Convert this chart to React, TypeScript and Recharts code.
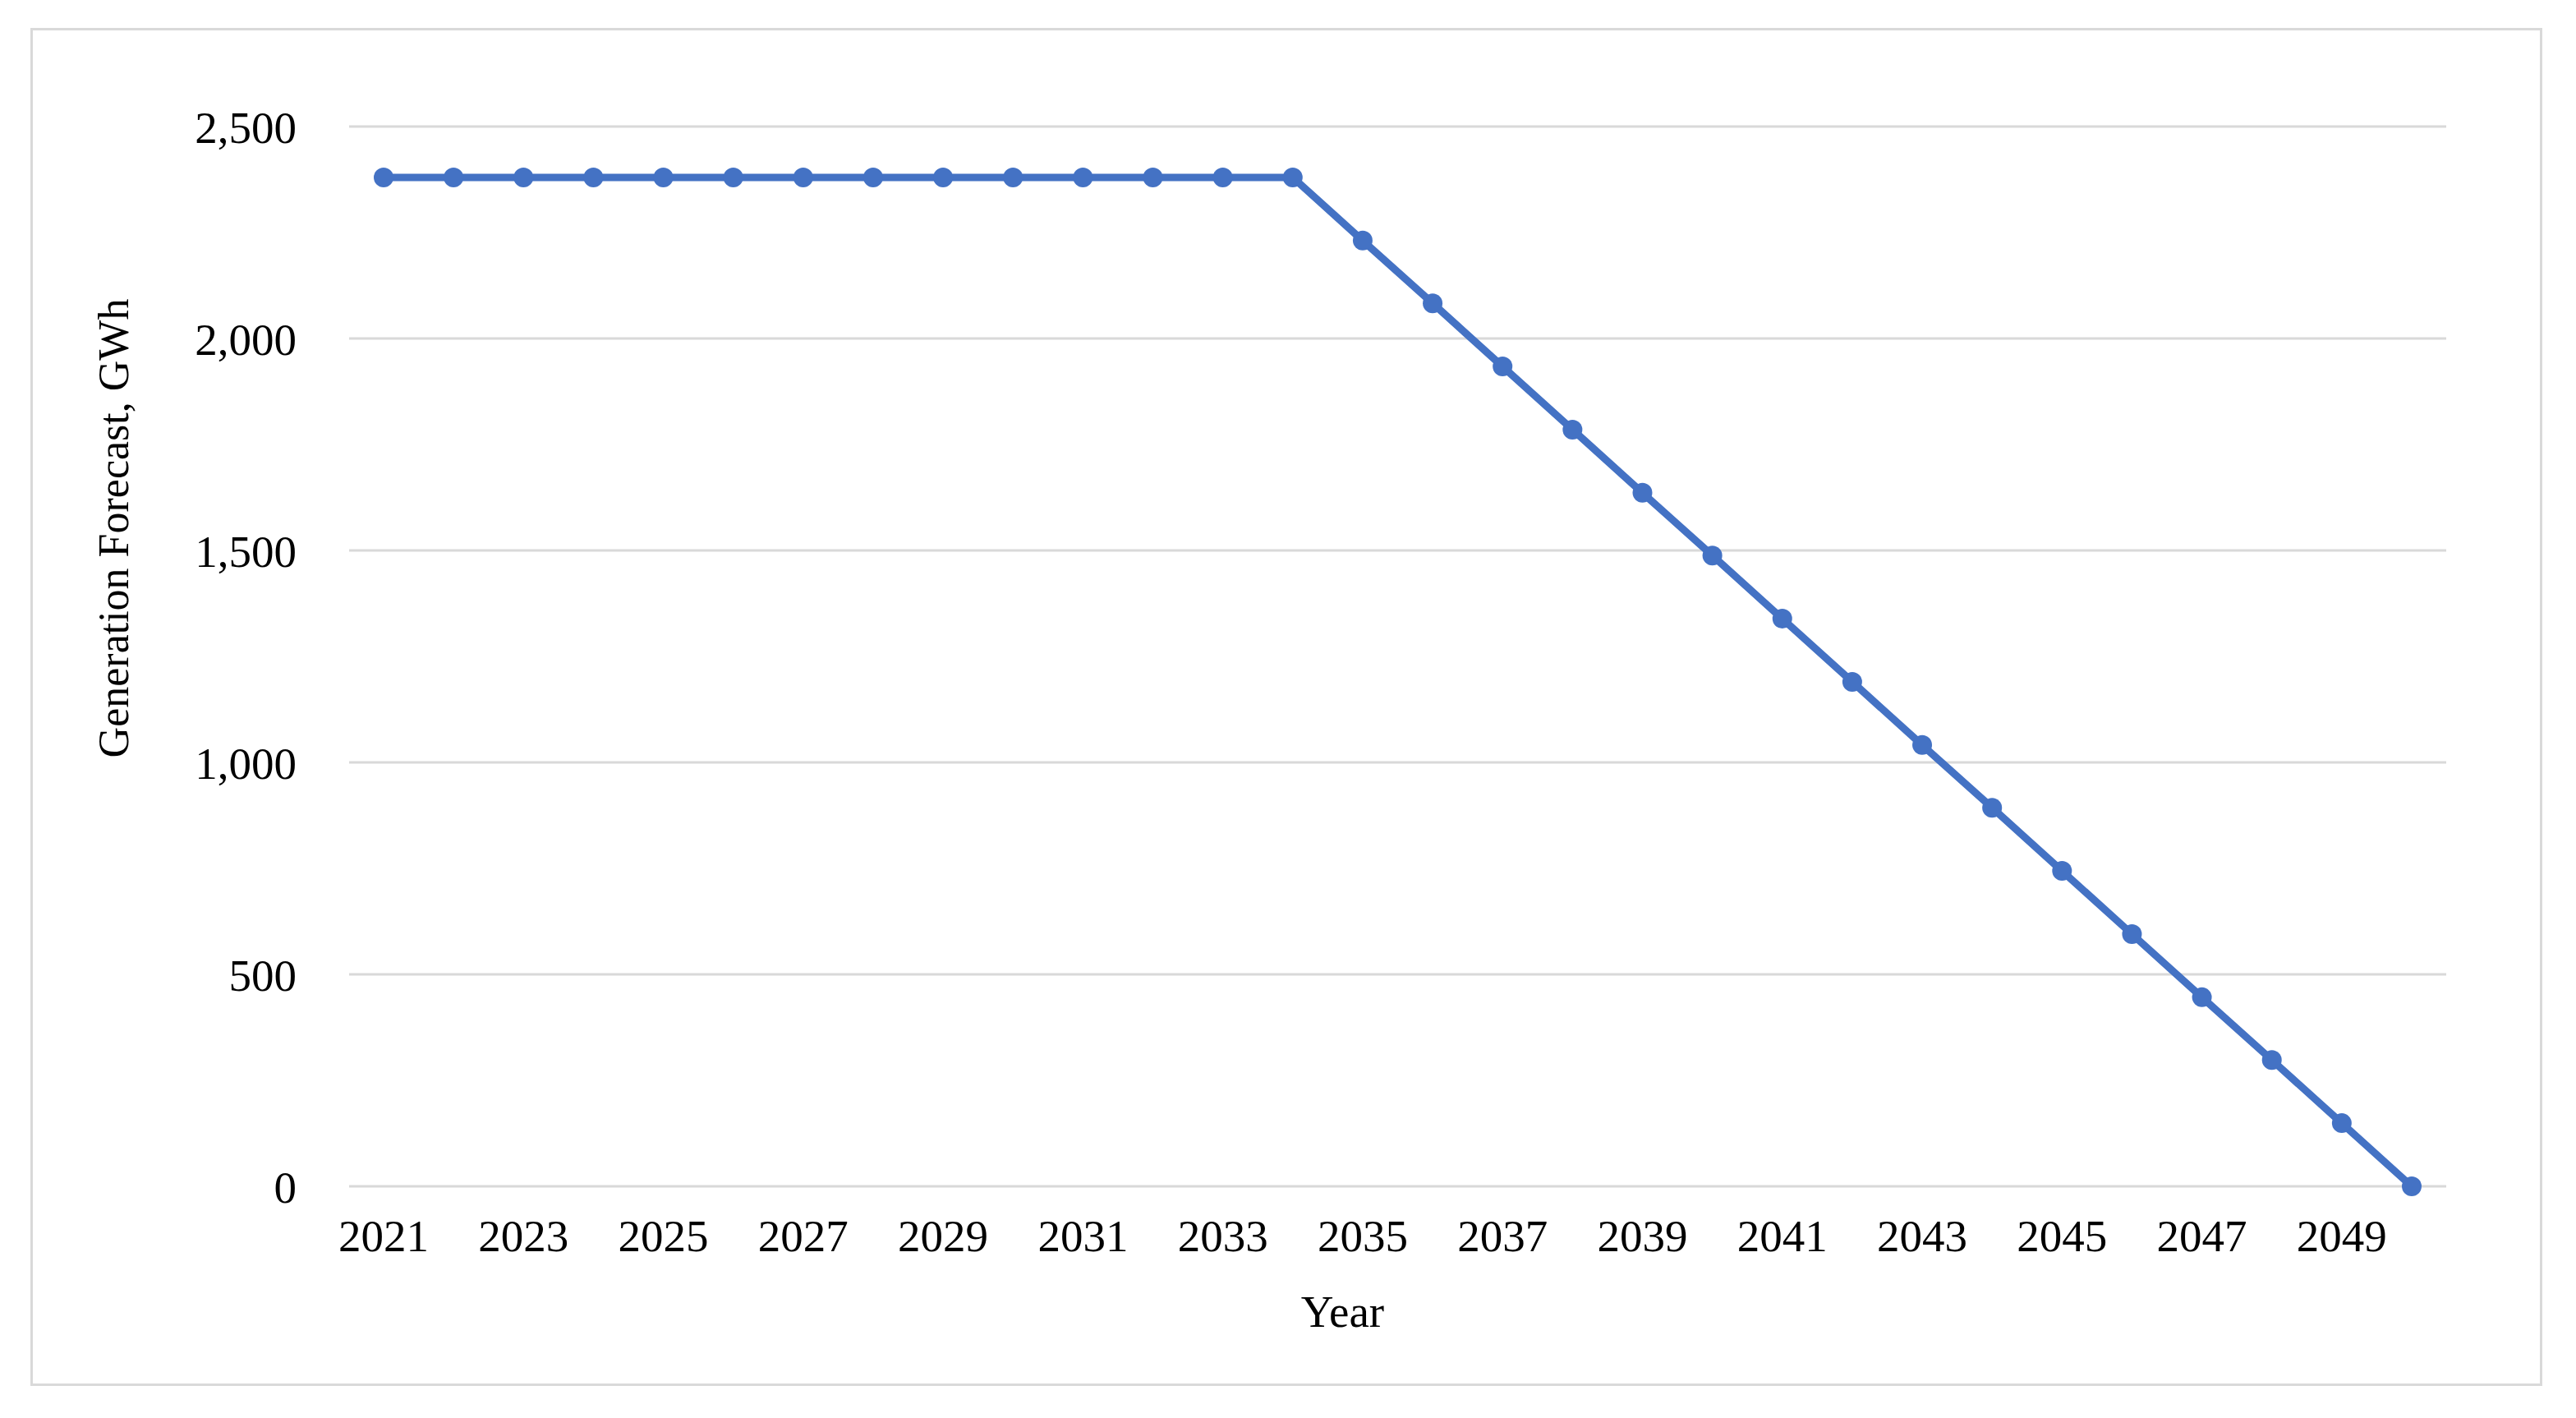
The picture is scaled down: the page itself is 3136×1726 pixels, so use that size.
import React from "react";
import {
  LineChart,
  Line,
  XAxis,
  YAxis,
  CartesianGrid,
  Label,
} from "recharts";

const years = [
  "2021", "2022", "2023", "2024", "2025", "2026", "2027", "2028", "2029", "2030",
  "2031", "2032", "2033", "2034", "2035", "2036", "2037", "2038", "2039", "2040",
  "2041", "2042", "2043", "2044", "2045", "2046", "2047", "2048", "2049", "2050",
];

// GWh
const generation = [
  2380, 2380, 2380, 2380, 2380, 2380, 2380, 2380, 2380, 2380,
  2380, 2380, 2380, 2380, 2231, 2083, 1934, 1785, 1636, 1488,
  1339, 1190, 1041, 893, 744, 595, 446, 298, 149, 0,
];

const yTicks = [0, 500, 1000, 1500, 2000, 2500];

const data = years.map((year, i) => ({ year, value: generation[i] }));

const FONT = "'Liberation Serif', 'Times New Roman', serif";
const BLUE = "#4472c4";

function YTitle(props: any) {
  const { viewBox } = props;
  const cx = viewBox.x + 138;
  const cy = viewBox.y + viewBox.height / 2 - 156;
  return (
    <text
      x={cx}
      y={cy}
      transform={`rotate(-90, ${cx}, ${cy})`}
      textAnchor="middle"
      dominantBaseline="central"
      fontFamily={FONT}
      fontSize={52}
      fill="#000"
    >
      Generation Forecast, GWh
    </text>
  );
}

function XTitle(props: any) {
  const { viewBox } = props;
  const cx = viewBox.x + viewBox.width / 2 - 67;
  return (
    <text
      x={cx}
      y={viewBox.y + 171}
      textAnchor="middle"
      fontFamily={FONT}
      fontSize={55}
      fill="#000"
    >
      Year
    </text>
  );
}

export default function App() {
  return (
    <div
      style={{
        position: "absolute",
        left: 0,
        top: 0,
        width: 3136,
        height: 1726,
        background: "#fff",
      }}
    >
      <div
        style={{
          position: "absolute",
          left: 37,
          top: 34,
          width: 3058,
          height: 1653,
          border: "3px solid #d9d9d9",
          boxSizing: "border-box",
        }}
      />
      <div style={{ position: "absolute", left: 0, top: 0 }}>
        <LineChart
          width={3136}
          height={1726}
          data={data}
          margin={{ top: 154, right: 158, bottom: 182, left: 0 }}
        >
          <CartesianGrid
            vertical={false}
            stroke="#d9d9d9"
            strokeWidth={3}
          />
          <XAxis
            dataKey="year"
            interval={1}
            height={100}
            padding={{ left: 42, right: 42 }}
            axisLine={false}
            tickLine={false}
            tickMargin={34}
            tick={{ fontFamily: FONT, fontSize: 55, fill: "#000" }}
          >
            <Label content={<XTitle />} />
          </XAxis>
          <YAxis
            width={425}
            domain={[0, 2500]}
            ticks={yTicks}
            axisLine={false}
            tickLine={false}
            tickMargin={58}
            tickFormatter={(v: number) => v.toLocaleString("en-US")}
            tick={{ fontFamily: FONT, fontSize: 55, fill: "#000" }}
          >
            <Label content={<YTitle />} />
          </YAxis>
          <Line
            type="linear"
            dataKey="value"
            stroke={BLUE}
            strokeWidth={9}
            dot={{ r: 12, fill: BLUE, stroke: BLUE, strokeWidth: 0 }}
            activeDot={false}
            isAnimationActive={false}
          />
        </LineChart>
      </div>
    </div>
  );
}
